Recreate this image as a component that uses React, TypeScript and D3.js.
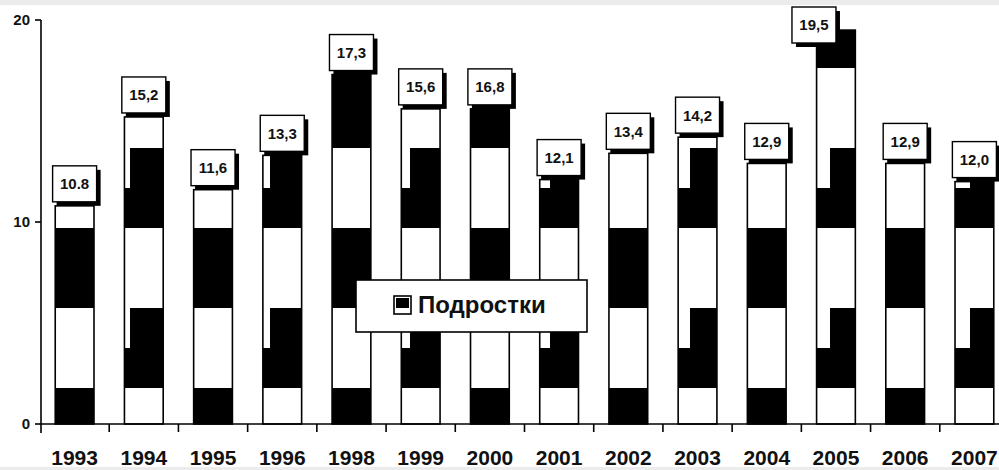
import React from 'react';
import * as d3 from 'd3';

const categories = ['1993', '1994', '1995', '1996', '1998', '1999', '2000', '2001', '2002', '2003', '2004', '2005', '2006', '2007'];
const values = [10.8, 15.2, 11.6, 13.3, 17.3, 15.6, 15.6, 12.1, 13.4, 14.2, 12.9, 19.5, 12.9, 12.0];
const valueLabels = ['10.8', '15,2', '11,6', '13,3', '17,3', '15,6', '16,8', '12,1', '13,4', '14,2', '12,9', '19,5', '12,9', '12,0'];
const yTicks = [0, 10, 20];
const legendLabel = 'Подростки';

const W = 999;
const H = 470;
const FONT = 'Liberation Sans, Arial, sans-serif';

// coarse block fill (pattern tile layout, 4x4 cells)
const tile = [
  [0, 0, 1, 1],
  [1, 1, 0, 0],
  [1, 1, 0, 0],
  [0, 0, 0, 1],
];
const CW = 35;
const CH = 40;

export default function App() {
  const x = d3.scaleBand<string>().domain(categories).range([40, 1009]).padding(0);
  const y = d3.scaleLinear().domain([0, 20]).range([424, 20]);
  const bw = x.bandwidth();
  const barW = bw * 0.56;
  const boxW = 44;
  const boxH = 36;

  return (
    <svg width={W} height={H} style={{ position: 'absolute', left: 0, top: 0, background: '#fff' }}>
      <defs>
        <pattern id="blocks" patternUnits="userSpaceOnUse" x={25} y={28} width={CW * 4} height={CH * 4}>
          <rect x={0} y={0} width={CW * 4} height={CH * 4} fill="#fff" />
          {tile.flatMap((row, r) => row.map((v, c) => v ? (
            <rect key={`${r}-${c}`} x={c * CW} y={r * CH} width={CW} height={CH} fill="#000" />
          ) : null))}
        </pattern>
      </defs>
      <rect x={0} y={0} width={W} height={5} fill="#ececec" />
      <rect x={0} y={467} width={W} height={3} fill="#ececec" />

      {/* bars */}
      {categories.map((c, i) => {
        const cx = (x(c) as number) + bw / 2;
        return (
          <rect key={c} x={cx - barW / 2} y={y(values[i])} width={barW} height={y(0) - y(values[i])}
            fill="url(#blocks)" stroke="#000" strokeWidth={1.6} />
        );
      })}

      {/* axes */}
      <line x1={41} x2={41} y1={y(20)} y2={433} stroke="#000" strokeWidth={1.6} />
      <line x1={41} x2={W} y1={y(0)} y2={y(0)} stroke="#000" strokeWidth={1.6} />
      {yTicks.map(t => (
        <g key={t}>
          <line x1={35} x2={41} y1={y(t)} y2={y(t)} stroke="#000" strokeWidth={1.6} />
          <text x={30} y={y(t)} dy="0.36em" textAnchor="end" fontFamily={FONT} fontWeight="bold" fontSize={15} fill="#111">{t}</text>
        </g>
      ))}
      {categories.slice(1).map(c => (
        <line key={c} x1={x(c) as number} x2={x(c) as number} y1={y(0)} y2={432} stroke="#000" strokeWidth={1.6} />
      ))}
      {categories.map(c => (
        <text key={c} x={(x(c) as number) + bw / 2} y={465} textAnchor="middle" fontFamily={FONT} fontWeight="bold" fontSize={21} fill="#111">{c}</text>
      ))}

      {/* value label boxes */}
      {categories.map((c, i) => {
        const cx = (x(c) as number) + bw / 2;
        let top = y(values[i]) - boxH - 4;
        let bx = cx - boxW / 2;
        if (top < 7) {
          top = 7;
          bx -= 22;
        }
        return (
          <g key={c}>
            <rect x={bx + 4} y={top + 4} width={boxW} height={boxH} fill="#000" />
            <rect x={bx} y={top} width={boxW} height={boxH} fill="#fff" stroke="#000" strokeWidth={1.4} />
            <text x={bx + boxW / 2} y={top + boxH / 2} dy="0.36em" textAnchor="middle" fontFamily={FONT} fontWeight="bold" fontSize={15} fill="#111">{valueLabels[i]}</text>
          </g>
        );
      })}

      {/* legend */}
      <g>
        <rect x={356} y={280} width={231} height={52} fill="#fff" stroke="#000" strokeWidth={1.6} />
        <rect x={394} y={296} width={17} height={18} fill="#fff" stroke="#000" strokeWidth={1.6} />
        <rect x={396} y={298} width={13} height={10} fill="#000" />
        <text x={418} y={313} fontFamily={FONT} fontWeight="bold" fontSize={24} fill="#111">{legendLabel}</text>
      </g>
    </svg>
  );
}
